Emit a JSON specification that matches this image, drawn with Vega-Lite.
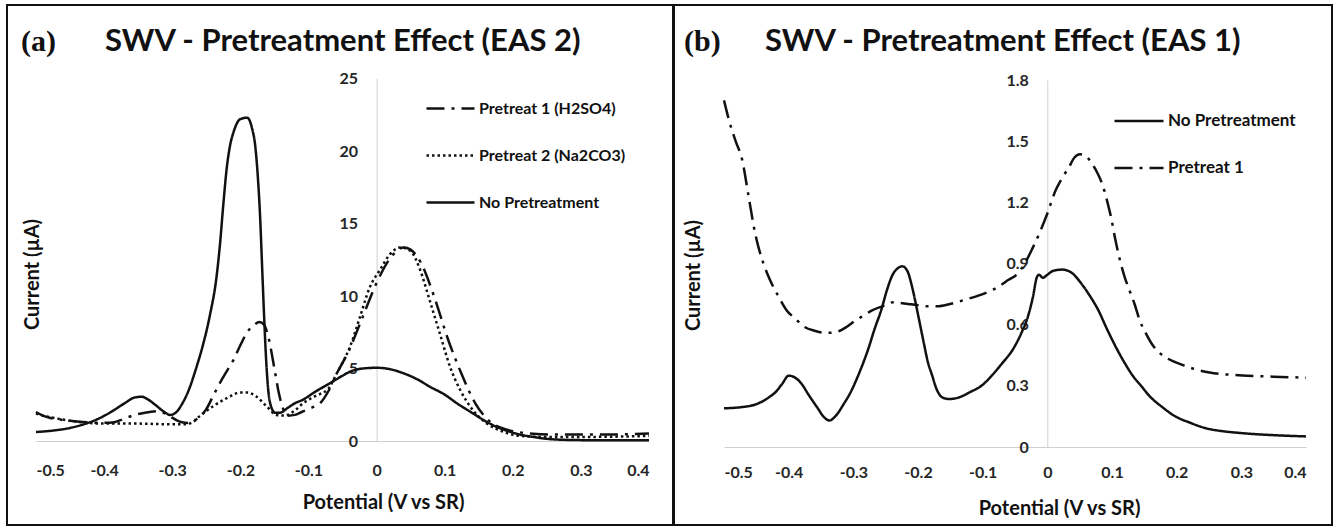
{
  "$schema": "https://vega.github.io/schema/vega-lite/v6.json",
  "padding": {"left": 6, "top": 4, "right": 0, "bottom": 0},
  "background": "white",
  "spacing": -2,
  "resolve": {"scale": {"strokeDash": "independent"}, "legend": {"strokeDash": "independent"}},
  "config": {
    "view": {"stroke": "#111111", "strokeWidth": 2},
    "font": "Lato",
    "axis": {"grid": false, "ticks": false, "tickSize": 0, "domainColor": "#d0d0d0", "domainWidth": 1,
      "labelFont": "Lato", "labelFontWeight": "bold", "labelFontSize": 16, "labelColor": "#262626",
      "titleFont": "Lato", "titleFontWeight": "bold", "titleFontSize": 20, "titleColor": "#111111"},
    "legend": {"orient": "none", "symbolType": "stroke", "symbolStrokeWidth": 2.5, "symbolStrokeColor": "#111111",
      "labelFont": "Lato", "labelFontWeight": "bold", "labelFontSize": 16, "labelColor": "#111111",
      "padding": 0, "rowPadding": 13, "title": null},
    "title": {"anchor": "start", "frame": "group", "fontWeight": "bold", "color": "#111111"}
  },
  "datasets": {
    "a": [
      {"s": "No Pretreatment", "v": -0.5, "i": 0.62}, {"s": "No Pretreatment", "v": -0.475, "i": 0.72}, {"s": "No Pretreatment", "v": -0.45, "i": 0.9},
      {"s": "No Pretreatment", "v": -0.43, "i": 1.15}, {"s": "No Pretreatment", "v": -0.41, "i": 1.5}, {"s": "No Pretreatment", "v": -0.39, "i": 2.0},
      {"s": "No Pretreatment", "v": -0.37, "i": 2.6}, {"s": "No Pretreatment", "v": -0.355, "i": 3.0}, {"s": "No Pretreatment", "v": -0.345, "i": 3.05},
      {"s": "No Pretreatment", "v": -0.335, "i": 2.85}, {"s": "No Pretreatment", "v": -0.325, "i": 2.5}, {"s": "No Pretreatment", "v": -0.313, "i": 2.05},
      {"s": "No Pretreatment", "v": -0.303, "i": 1.8}, {"s": "No Pretreatment", "v": -0.295, "i": 1.95}, {"s": "No Pretreatment", "v": -0.285, "i": 2.6},
      {"s": "No Pretreatment", "v": -0.275, "i": 3.6}, {"s": "No Pretreatment", "v": -0.265, "i": 5.0}, {"s": "No Pretreatment", "v": -0.255, "i": 6.6},
      {"s": "No Pretreatment", "v": -0.245, "i": 8.6}, {"s": "No Pretreatment", "v": -0.235, "i": 11.3}, {"s": "No Pretreatment", "v": -0.23, "i": 13.5},
      {"s": "No Pretreatment", "v": -0.225, "i": 16.3}, {"s": "No Pretreatment", "v": -0.22, "i": 18.8}, {"s": "No Pretreatment", "v": -0.215, "i": 20.4},
      {"s": "No Pretreatment", "v": -0.21, "i": 21.3}, {"s": "No Pretreatment", "v": -0.2, "i": 22.2}, {"s": "No Pretreatment", "v": -0.19, "i": 22.3},
      {"s": "No Pretreatment", "v": -0.183, "i": 21.6}, {"s": "No Pretreatment", "v": -0.178, "i": 20.3}, {"s": "No Pretreatment", "v": -0.174, "i": 18.0},
      {"s": "No Pretreatment", "v": -0.171, "i": 15.5}, {"s": "No Pretreatment", "v": -0.168, "i": 12.0}, {"s": "No Pretreatment", "v": -0.165, "i": 8.5},
      {"s": "No Pretreatment", "v": -0.162, "i": 5.5}, {"s": "No Pretreatment", "v": -0.159, "i": 3.5}, {"s": "No Pretreatment", "v": -0.155, "i": 2.4},
      {"s": "No Pretreatment", "v": -0.149, "i": 1.95}, {"s": "No Pretreatment", "v": -0.142, "i": 1.95}, {"s": "No Pretreatment", "v": -0.13, "i": 2.3},
      {"s": "No Pretreatment", "v": -0.12, "i": 2.6}, {"s": "No Pretreatment", "v": -0.108, "i": 2.85}, {"s": "No Pretreatment", "v": -0.09, "i": 3.4},
      {"s": "No Pretreatment", "v": -0.068, "i": 4.0}, {"s": "No Pretreatment", "v": -0.05, "i": 4.5}, {"s": "No Pretreatment", "v": -0.039, "i": 4.78},
      {"s": "No Pretreatment", "v": -0.02, "i": 5.0}, {"s": "No Pretreatment", "v": 0.0, "i": 5.05}, {"s": "No Pretreatment", "v": 0.02, "i": 4.95},
      {"s": "No Pretreatment", "v": 0.039, "i": 4.68}, {"s": "No Pretreatment", "v": 0.06, "i": 4.25}, {"s": "No Pretreatment", "v": 0.078, "i": 3.75},
      {"s": "No Pretreatment", "v": 0.1, "i": 3.2}, {"s": "No Pretreatment", "v": 0.118, "i": 2.6}, {"s": "No Pretreatment", "v": 0.14, "i": 1.95},
      {"s": "No Pretreatment", "v": 0.157, "i": 1.45}, {"s": "No Pretreatment", "v": 0.175, "i": 1.0}, {"s": "No Pretreatment", "v": 0.196, "i": 0.64},
      {"s": "No Pretreatment", "v": 0.21, "i": 0.45}, {"s": "No Pretreatment", "v": 0.23, "i": 0.28}, {"s": "No Pretreatment", "v": 0.25, "i": 0.15},
      {"s": "No Pretreatment", "v": 0.27, "i": 0.09}, {"s": "No Pretreatment", "v": 0.3, "i": 0.06}, {"s": "No Pretreatment", "v": 0.35, "i": 0.05},
      {"s": "No Pretreatment", "v": 0.4, "i": 0.05},

      {"s": "Pretreat 1 (H2SO4)", "v": -0.5, "i": 2.0}, {"s": "Pretreat 1 (H2SO4)", "v": -0.49, "i": 1.75}, {"s": "Pretreat 1 (H2SO4)", "v": -0.48, "i": 1.6},
      {"s": "Pretreat 1 (H2SO4)", "v": -0.46, "i": 1.45}, {"s": "Pretreat 1 (H2SO4)", "v": -0.44, "i": 1.35}, {"s": "Pretreat 1 (H2SO4)", "v": -0.42, "i": 1.28},
      {"s": "Pretreat 1 (H2SO4)", "v": -0.4, "i": 1.25}, {"s": "Pretreat 1 (H2SO4)", "v": -0.385, "i": 1.3}, {"s": "Pretreat 1 (H2SO4)", "v": -0.37, "i": 1.55},
      {"s": "Pretreat 1 (H2SO4)", "v": -0.355, "i": 1.8}, {"s": "Pretreat 1 (H2SO4)", "v": -0.34, "i": 1.95}, {"s": "Pretreat 1 (H2SO4)", "v": -0.32, "i": 2.05},
      {"s": "Pretreat 1 (H2SO4)", "v": -0.305, "i": 1.75}, {"s": "Pretreat 1 (H2SO4)", "v": -0.29, "i": 1.35}, {"s": "Pretreat 1 (H2SO4)", "v": -0.278, "i": 1.25},
      {"s": "Pretreat 1 (H2SO4)", "v": -0.27, "i": 1.35}, {"s": "Pretreat 1 (H2SO4)", "v": -0.26, "i": 1.65}, {"s": "Pretreat 1 (H2SO4)", "v": -0.25, "i": 2.2},
      {"s": "Pretreat 1 (H2SO4)", "v": -0.24, "i": 3.1}, {"s": "Pretreat 1 (H2SO4)", "v": -0.23, "i": 4.0}, {"s": "Pretreat 1 (H2SO4)", "v": -0.22, "i": 4.8},
      {"s": "Pretreat 1 (H2SO4)", "v": -0.21, "i": 5.6}, {"s": "Pretreat 1 (H2SO4)", "v": -0.2, "i": 6.6}, {"s": "Pretreat 1 (H2SO4)", "v": -0.19, "i": 7.5},
      {"s": "Pretreat 1 (H2SO4)", "v": -0.18, "i": 8.0}, {"s": "Pretreat 1 (H2SO4)", "v": -0.172, "i": 8.2}, {"s": "Pretreat 1 (H2SO4)", "v": -0.165, "i": 8.0},
      {"s": "Pretreat 1 (H2SO4)", "v": -0.158, "i": 7.0}, {"s": "Pretreat 1 (H2SO4)", "v": -0.15, "i": 5.0}, {"s": "Pretreat 1 (H2SO4)", "v": -0.143, "i": 3.2},
      {"s": "Pretreat 1 (H2SO4)", "v": -0.137, "i": 2.2}, {"s": "Pretreat 1 (H2SO4)", "v": -0.13, "i": 1.75}, {"s": "Pretreat 1 (H2SO4)", "v": -0.12, "i": 1.8},
      {"s": "Pretreat 1 (H2SO4)", "v": -0.11, "i": 2.0}, {"s": "Pretreat 1 (H2SO4)", "v": -0.095, "i": 2.3}, {"s": "Pretreat 1 (H2SO4)", "v": -0.083, "i": 2.6},
      {"s": "Pretreat 1 (H2SO4)", "v": -0.07, "i": 3.5}, {"s": "Pretreat 1 (H2SO4)", "v": -0.06, "i": 4.5}, {"s": "Pretreat 1 (H2SO4)", "v": -0.04, "i": 6.3},
      {"s": "Pretreat 1 (H2SO4)", "v": -0.02, "i": 8.6}, {"s": "Pretreat 1 (H2SO4)", "v": 0.0, "i": 10.9}, {"s": "Pretreat 1 (H2SO4)", "v": 0.02, "i": 12.6},
      {"s": "Pretreat 1 (H2SO4)", "v": 0.04, "i": 13.35}, {"s": "Pretreat 1 (H2SO4)", "v": 0.05, "i": 13.2}, {"s": "Pretreat 1 (H2SO4)", "v": 0.065, "i": 12.3},
      {"s": "Pretreat 1 (H2SO4)", "v": 0.085, "i": 9.9}, {"s": "Pretreat 1 (H2SO4)", "v": 0.105, "i": 7.0}, {"s": "Pretreat 1 (H2SO4)", "v": 0.125, "i": 4.6},
      {"s": "Pretreat 1 (H2SO4)", "v": 0.145, "i": 2.6}, {"s": "Pretreat 1 (H2SO4)", "v": 0.165, "i": 1.4}, {"s": "Pretreat 1 (H2SO4)", "v": 0.19, "i": 0.8},
      {"s": "Pretreat 1 (H2SO4)", "v": 0.21, "i": 0.6}, {"s": "Pretreat 1 (H2SO4)", "v": 0.23, "i": 0.5}, {"s": "Pretreat 1 (H2SO4)", "v": 0.26, "i": 0.45},
      {"s": "Pretreat 1 (H2SO4)", "v": 0.3, "i": 0.45}, {"s": "Pretreat 1 (H2SO4)", "v": 0.35, "i": 0.45}, {"s": "Pretreat 1 (H2SO4)", "v": 0.4, "i": 0.52},

      {"s": "Pretreat 2 (Na2CO3)", "v": -0.5, "i": 1.9}, {"s": "Pretreat 2 (Na2CO3)", "v": -0.49, "i": 1.75}, {"s": "Pretreat 2 (Na2CO3)", "v": -0.475, "i": 1.6},
      {"s": "Pretreat 2 (Na2CO3)", "v": -0.45, "i": 1.4}, {"s": "Pretreat 2 (Na2CO3)", "v": -0.425, "i": 1.25}, {"s": "Pretreat 2 (Na2CO3)", "v": -0.4, "i": 1.2},
      {"s": "Pretreat 2 (Na2CO3)", "v": -0.35, "i": 1.2}, {"s": "Pretreat 2 (Na2CO3)", "v": -0.3, "i": 1.15}, {"s": "Pretreat 2 (Na2CO3)", "v": -0.28, "i": 1.15},
      {"s": "Pretreat 2 (Na2CO3)", "v": -0.27, "i": 1.3}, {"s": "Pretreat 2 (Na2CO3)", "v": -0.26, "i": 1.7}, {"s": "Pretreat 2 (Na2CO3)", "v": -0.24, "i": 2.4},
      {"s": "Pretreat 2 (Na2CO3)", "v": -0.22, "i": 2.95}, {"s": "Pretreat 2 (Na2CO3)", "v": -0.2, "i": 3.35}, {"s": "Pretreat 2 (Na2CO3)", "v": -0.19, "i": 3.35},
      {"s": "Pretreat 2 (Na2CO3)", "v": -0.176, "i": 3.05}, {"s": "Pretreat 2 (Na2CO3)", "v": -0.161, "i": 2.37}, {"s": "Pretreat 2 (Na2CO3)", "v": -0.147, "i": 1.8},
      {"s": "Pretreat 2 (Na2CO3)", "v": -0.135, "i": 1.75}, {"s": "Pretreat 2 (Na2CO3)", "v": -0.12, "i": 2.1}, {"s": "Pretreat 2 (Na2CO3)", "v": -0.108, "i": 2.6},
      {"s": "Pretreat 2 (Na2CO3)", "v": -0.09, "i": 3.1}, {"s": "Pretreat 2 (Na2CO3)", "v": -0.071, "i": 3.6}, {"s": "Pretreat 2 (Na2CO3)", "v": -0.058, "i": 4.7},
      {"s": "Pretreat 2 (Na2CO3)", "v": -0.039, "i": 6.5}, {"s": "Pretreat 2 (Na2CO3)", "v": -0.024, "i": 8.6}, {"s": "Pretreat 2 (Na2CO3)", "v": -0.01, "i": 10.6},
      {"s": "Pretreat 2 (Na2CO3)", "v": 0.005, "i": 11.8}, {"s": "Pretreat 2 (Na2CO3)", "v": 0.02, "i": 12.9}, {"s": "Pretreat 2 (Na2CO3)", "v": 0.035, "i": 13.35},
      {"s": "Pretreat 2 (Na2CO3)", "v": 0.05, "i": 13.1}, {"s": "Pretreat 2 (Na2CO3)", "v": 0.064, "i": 11.8}, {"s": "Pretreat 2 (Na2CO3)", "v": 0.078, "i": 9.7},
      {"s": "Pretreat 2 (Na2CO3)", "v": 0.093, "i": 7.4}, {"s": "Pretreat 2 (Na2CO3)", "v": 0.108, "i": 5.1}, {"s": "Pretreat 2 (Na2CO3)", "v": 0.123, "i": 3.5},
      {"s": "Pretreat 2 (Na2CO3)", "v": 0.142, "i": 2.1}, {"s": "Pretreat 2 (Na2CO3)", "v": 0.162, "i": 1.2}, {"s": "Pretreat 2 (Na2CO3)", "v": 0.186, "i": 0.64},
      {"s": "Pretreat 2 (Na2CO3)", "v": 0.21, "i": 0.35}, {"s": "Pretreat 2 (Na2CO3)", "v": 0.25, "i": 0.28}, {"s": "Pretreat 2 (Na2CO3)", "v": 0.3, "i": 0.28},
      {"s": "Pretreat 2 (Na2CO3)", "v": 0.35, "i": 0.3}, {"s": "Pretreat 2 (Na2CO3)", "v": 0.4, "i": 0.35}
    ],
    "b": [
      {"s": "No Pretreatment", "v": -0.5, "i": 0.19}, {"s": "No Pretreatment", "v": -0.475, "i": 0.195}, {"s": "No Pretreatment", "v": -0.45, "i": 0.21},
      {"s": "No Pretreatment", "v": -0.43, "i": 0.245}, {"s": "No Pretreatment", "v": -0.42, "i": 0.27}, {"s": "No Pretreatment", "v": -0.41, "i": 0.31},
      {"s": "No Pretreatment", "v": -0.4, "i": 0.35}, {"s": "No Pretreatment", "v": -0.39, "i": 0.34}, {"s": "No Pretreatment", "v": -0.38, "i": 0.31},
      {"s": "No Pretreatment", "v": -0.37, "i": 0.26}, {"s": "No Pretreatment", "v": -0.355, "i": 0.19}, {"s": "No Pretreatment", "v": -0.345, "i": 0.145},
      {"s": "No Pretreatment", "v": -0.337, "i": 0.13}, {"s": "No Pretreatment", "v": -0.328, "i": 0.15}, {"s": "No Pretreatment", "v": -0.315, "i": 0.21},
      {"s": "No Pretreatment", "v": -0.304, "i": 0.27}, {"s": "No Pretreatment", "v": -0.29, "i": 0.37}, {"s": "No Pretreatment", "v": -0.277, "i": 0.48},
      {"s": "No Pretreatment", "v": -0.267, "i": 0.58}, {"s": "No Pretreatment", "v": -0.257, "i": 0.67}, {"s": "No Pretreatment", "v": -0.248, "i": 0.77},
      {"s": "No Pretreatment", "v": -0.24, "i": 0.84}, {"s": "No Pretreatment", "v": -0.232, "i": 0.875}, {"s": "No Pretreatment", "v": -0.224, "i": 0.886},
      {"s": "No Pretreatment", "v": -0.216, "i": 0.86}, {"s": "No Pretreatment", "v": -0.208, "i": 0.77}, {"s": "No Pretreatment", "v": -0.2, "i": 0.65},
      {"s": "No Pretreatment", "v": -0.191, "i": 0.51}, {"s": "No Pretreatment", "v": -0.185, "i": 0.42}, {"s": "No Pretreatment", "v": -0.178, "i": 0.35},
      {"s": "No Pretreatment", "v": -0.172, "i": 0.29}, {"s": "No Pretreatment", "v": -0.165, "i": 0.25}, {"s": "No Pretreatment", "v": -0.158, "i": 0.238},
      {"s": "No Pretreatment", "v": -0.152, "i": 0.235}, {"s": "No Pretreatment", "v": -0.14, "i": 0.24}, {"s": "No Pretreatment", "v": -0.119, "i": 0.27},
      {"s": "No Pretreatment", "v": -0.1, "i": 0.305}, {"s": "No Pretreatment", "v": -0.086, "i": 0.35}, {"s": "No Pretreatment", "v": -0.07, "i": 0.41},
      {"s": "No Pretreatment", "v": -0.053, "i": 0.48}, {"s": "No Pretreatment", "v": -0.04, "i": 0.56}, {"s": "No Pretreatment", "v": -0.03, "i": 0.64},
      {"s": "No Pretreatment", "v": -0.022, "i": 0.74}, {"s": "No Pretreatment", "v": -0.0165, "i": 0.83}, {"s": "No Pretreatment", "v": -0.013, "i": 0.845},
      {"s": "No Pretreatment", "v": -0.007, "i": 0.83}, {"s": "No Pretreatment", "v": 0.0, "i": 0.845}, {"s": "No Pretreatment", "v": 0.01, "i": 0.865},
      {"s": "No Pretreatment", "v": 0.023, "i": 0.87}, {"s": "No Pretreatment", "v": 0.035, "i": 0.86}, {"s": "No Pretreatment", "v": 0.053, "i": 0.8},
      {"s": "No Pretreatment", "v": 0.065, "i": 0.745}, {"s": "No Pretreatment", "v": 0.079, "i": 0.67}, {"s": "No Pretreatment", "v": 0.092, "i": 0.58},
      {"s": "No Pretreatment", "v": 0.106, "i": 0.49}, {"s": "No Pretreatment", "v": 0.12, "i": 0.41}, {"s": "No Pretreatment", "v": 0.132, "i": 0.35},
      {"s": "No Pretreatment", "v": 0.145, "i": 0.3}, {"s": "No Pretreatment", "v": 0.158, "i": 0.25}, {"s": "No Pretreatment", "v": 0.178, "i": 0.195},
      {"s": "No Pretreatment", "v": 0.198, "i": 0.15}, {"s": "No Pretreatment", "v": 0.22, "i": 0.12}, {"s": "No Pretreatment", "v": 0.244, "i": 0.093},
      {"s": "No Pretreatment", "v": 0.27, "i": 0.078}, {"s": "No Pretreatment", "v": 0.297, "i": 0.069}, {"s": "No Pretreatment", "v": 0.35, "i": 0.058},
      {"s": "No Pretreatment", "v": 0.4, "i": 0.052},

      {"s": "Pretreat 1", "v": -0.5, "i": 1.7}, {"s": "Pretreat 1", "v": -0.492, "i": 1.6}, {"s": "Pretreat 1", "v": -0.482, "i": 1.5},
      {"s": "Pretreat 1", "v": -0.472, "i": 1.41}, {"s": "Pretreat 1", "v": -0.462, "i": 1.23}, {"s": "Pretreat 1", "v": -0.452, "i": 1.05},
      {"s": "Pretreat 1", "v": -0.439, "i": 0.9}, {"s": "Pretreat 1", "v": -0.429, "i": 0.82}, {"s": "Pretreat 1", "v": -0.416, "i": 0.74},
      {"s": "Pretreat 1", "v": -0.403, "i": 0.67}, {"s": "Pretreat 1", "v": -0.39, "i": 0.63}, {"s": "Pretreat 1", "v": -0.376, "i": 0.59},
      {"s": "Pretreat 1", "v": -0.36, "i": 0.57}, {"s": "Pretreat 1", "v": -0.345, "i": 0.56}, {"s": "Pretreat 1", "v": -0.335, "i": 0.56},
      {"s": "Pretreat 1", "v": -0.323, "i": 0.567}, {"s": "Pretreat 1", "v": -0.31, "i": 0.59}, {"s": "Pretreat 1", "v": -0.297, "i": 0.62},
      {"s": "Pretreat 1", "v": -0.284, "i": 0.645}, {"s": "Pretreat 1", "v": -0.271, "i": 0.67}, {"s": "Pretreat 1", "v": -0.255, "i": 0.69},
      {"s": "Pretreat 1", "v": -0.238, "i": 0.71}, {"s": "Pretreat 1", "v": -0.224, "i": 0.705}, {"s": "Pretreat 1", "v": -0.211, "i": 0.7},
      {"s": "Pretreat 1", "v": -0.198, "i": 0.695}, {"s": "Pretreat 1", "v": -0.185, "i": 0.69}, {"s": "Pretreat 1", "v": -0.17, "i": 0.69},
      {"s": "Pretreat 1", "v": -0.152, "i": 0.7}, {"s": "Pretreat 1", "v": -0.135, "i": 0.715}, {"s": "Pretreat 1", "v": -0.119, "i": 0.73},
      {"s": "Pretreat 1", "v": -0.1, "i": 0.75}, {"s": "Pretreat 1", "v": -0.079, "i": 0.78}, {"s": "Pretreat 1", "v": -0.06, "i": 0.82},
      {"s": "Pretreat 1", "v": -0.046, "i": 0.85}, {"s": "Pretreat 1", "v": -0.035, "i": 0.9}, {"s": "Pretreat 1", "v": -0.023, "i": 0.974},
      {"s": "Pretreat 1", "v": -0.012, "i": 1.05}, {"s": "Pretreat 1", "v": 0.0, "i": 1.145}, {"s": "Pretreat 1", "v": 0.013, "i": 1.26},
      {"s": "Pretreat 1", "v": 0.023, "i": 1.32}, {"s": "Pretreat 1", "v": 0.033, "i": 1.37}, {"s": "Pretreat 1", "v": 0.042, "i": 1.42},
      {"s": "Pretreat 1", "v": 0.05, "i": 1.436}, {"s": "Pretreat 1", "v": 0.058, "i": 1.43}, {"s": "Pretreat 1", "v": 0.069, "i": 1.39},
      {"s": "Pretreat 1", "v": 0.078, "i": 1.34}, {"s": "Pretreat 1", "v": 0.086, "i": 1.28}, {"s": "Pretreat 1", "v": 0.093, "i": 1.2},
      {"s": "Pretreat 1", "v": 0.099, "i": 1.12}, {"s": "Pretreat 1", "v": 0.105, "i": 1.02}, {"s": "Pretreat 1", "v": 0.112, "i": 0.92},
      {"s": "Pretreat 1", "v": 0.12, "i": 0.83}, {"s": "Pretreat 1", "v": 0.128, "i": 0.76}, {"s": "Pretreat 1", "v": 0.135, "i": 0.7},
      {"s": "Pretreat 1", "v": 0.143, "i": 0.62}, {"s": "Pretreat 1", "v": 0.152, "i": 0.56}, {"s": "Pretreat 1", "v": 0.165, "i": 0.49},
      {"s": "Pretreat 1", "v": 0.178, "i": 0.45}, {"s": "Pretreat 1", "v": 0.195, "i": 0.42}, {"s": "Pretreat 1", "v": 0.211, "i": 0.4},
      {"s": "Pretreat 1", "v": 0.23, "i": 0.38}, {"s": "Pretreat 1", "v": 0.251, "i": 0.365}, {"s": "Pretreat 1", "v": 0.28, "i": 0.355},
      {"s": "Pretreat 1", "v": 0.31, "i": 0.35}, {"s": "Pretreat 1", "v": 0.35, "i": 0.345}, {"s": "Pretreat 1", "v": 0.4, "i": 0.34}
    ]
  },
  "hconcat": [
    {
      "title": {"text": "(a)", "font": "Liberation Serif", "fontSize": 30, "dx": 14, "dy": 57},
      "vconcat": [
        {
          "width": 666, "height": 520,
          "data": {"name": "a"},
          "title": {"text": "SWV - Pretreatment Effect (EAS 2)", "font": "Lato", "fontSize": 31, "dx": 98, "dy": 57},
          "mark": {"type": "line", "color": "#111111", "strokeWidth": 2.5, "interpolate": "monotone"},
          "encoding": {
            "x": {"field": "v", "type": "quantitative",
              "scale": {"domain": [-0.5, 0.4], "range": [29, 642], "nice": false, "zero": false},
              "axis": {"values": [-0.5, -0.4, -0.3, -0.2, -0.1, 0, 0.1, 0.2, 0.3, 0.4], "offset": -84, "labelPadding": 21,
                "labelExpr": "datum.value == 0 ? '0' : (datum.value < 0 ? '-' + format(-datum.value, '.1f') : format(datum.value, '.1f'))",
                "title": "Potential (V vs SR)", "titleX": 376, "titleY": 61, "titleBaseline": "middle"}},
            "y": {"field": "i", "type": "quantitative",
              "scale": {"domain": [0, 25], "range": [436, 73.5], "nice": false},
              "axis": {"values": [0, 5, 10, 15, 20, 25], "offset": -369.6, "labelPadding": 19,
                "title": "Current (µA)", "titleX": -344, "titleY": 269, "titleBaseline": "middle", "titleAngle": -90}},
            "strokeDash": {"field": "s", "type": "nominal",
              "scale": {"domain": ["Pretreat 1 (H2SO4)", "Pretreat 2 (Na2CO3)", "No Pretreatment"], "range": [[18, 7, 3, 7], [2.5, 3], [1, 0]]},
              "legend": {"legendX": 418, "legendY": 78, "symbolSize": 2304, "labelOffset": 3}}
          }
        }
      ]
    },
    {
      "title": {"text": "(b)", "font": "Liberation Serif", "fontSize": 30, "dx": 10, "dy": 57},
      "vconcat": [
        {
          "width": 658, "height": 520,
          "data": {"name": "b"},
          "title": {"text": "SWV - Pretreatment Effect (EAS 1)", "font": "Lato", "fontSize": 31, "dx": 91, "dy": 57},
          "mark": {"type": "line", "color": "#111111", "strokeWidth": 2.5, "interpolate": "monotone"},
          "encoding": {
            "x": {"field": "v", "type": "quantitative",
              "scale": {"domain": [-0.5, 0.4], "range": [50, 632], "nice": false, "zero": false},
              "axis": {"values": [-0.5, -0.4, -0.3, -0.2, -0.1, 0, 0.1, 0.2, 0.3, 0.4], "offset": -78, "labelPadding": 17,
                "labelExpr": "datum.value == 0 ? '0' : (datum.value < 0 ? '-' + format(-datum.value, '.1f') : format(datum.value, '.1f'))",
                "title": "Potential (V vs SR)", "titleX": 385, "titleY": 61, "titleBaseline": "middle"}},
            "y": {"field": "i", "type": "quantitative",
              "scale": {"domain": [0, 1.8], "range": [442, 75], "nice": false},
              "axis": {"values": [0, 0.3, 0.6, 0.9, 1.2, 1.5, 1.8], "offset": -373.3, "labelPadding": 19,
                "labelExpr": "datum.value == 0 ? '0' : format(datum.value, '.1f')",
                "title": "Current (µA)", "titleX": -354, "titleY": 270, "titleBaseline": "middle", "titleAngle": -90}},
            "strokeDash": {"field": "s", "type": "nominal",
              "scale": {"domain": ["No Pretreatment", "Pretreat 1"], "range": [[1, 0], [18, 7, 3, 7]]},
              "legend": {"legendX": 439, "legendY": 90, "symbolSize": 2401, "labelOffset": 3, "labelFontSize": 17, "rowPadding": 13}}
          }
        }
      ]
    }
  ]
}
